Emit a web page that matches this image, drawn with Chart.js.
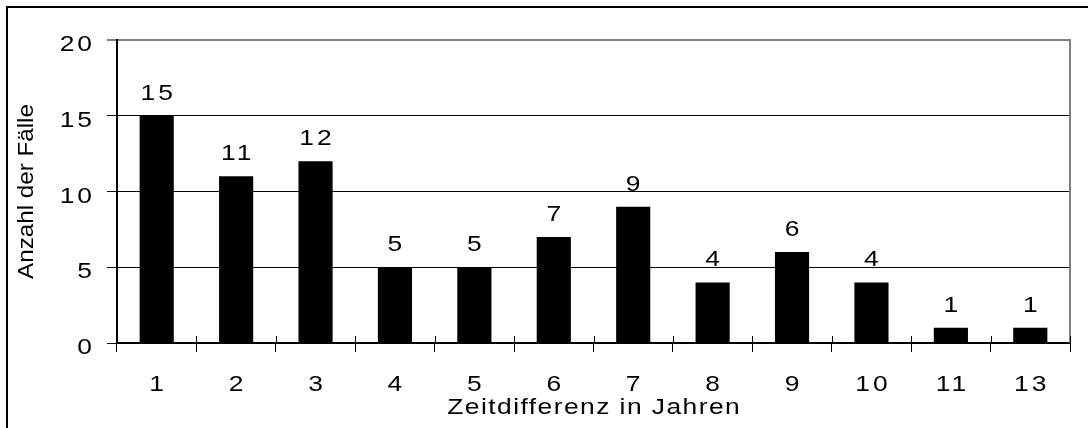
<!DOCTYPE html>
<html><head><meta charset="utf-8">
<script src="https://cdn.jsdelivr.net/npm/chart.js@4.4.0/dist/chart.umd.min.js"></script>
<style>html,body{margin:0;padding:0;background:#fff}canvas{display:block}</style>
</head><body>
<canvas id="c" width="1088" height="428"></canvas>
<script>
const categories = ['1','2','3','4','5','6','7','8','9','10','11','13'];
const cases = [15,11,12,5,5,7,9,4,6,4,1,1];
const yMin = 0, yMax = 20, yStep = 5;
const xTitle = 'Zeitdifferenz in Jahren';
const yTitle = 'Anzahl der Fälle';

const FONT = "'Liberation Sans', Arial, sans-serif";
const FS = 22;

const stretchText = {
  id: 'stretchText',
  beforeDraw(chart) {
    const ctx = chart.ctx;
    ctx.save();
    ctx.fillStyle = '#fff';
    ctx.fillRect(0, 0, chart.width, chart.height);
    ctx.restore();
    if (ctx.__patched) return;
    const orig = ctx.fillText.bind(ctx);
    ctx.fillText = function (t, x, y) {
      const m = ctx.getTransform();
      const rotated = Math.abs(m.b) > 1e-6;
      const numeric = /^\d+$/.test(String(t));
      const sx = rotated ? 1.1 : 1.2;
      const ls = rotated ? 0 : (numeric ? 2.5 : 1.2);
      ctx.save();
      ctx.translate(x, y);
      ctx.scale(sx, 1);
      ctx.letterSpacing = ls + 'px';
      let dx = 0;
      if (ctx.textAlign === 'center') dx = ls / 2;
      else if (ctx.textAlign === 'right' || ctx.textAlign === 'end') dx = ls;
      orig(t, dx, 0);
      ctx.restore();
    };
    ctx.__patched = true;
  },
  afterDatasetsDraw(chart) {
    const ctx = chart.ctx;
    const meta = chart.getDatasetMeta(0);
    const data = chart.data.datasets[0].data;
    ctx.save();
    ctx.fillStyle = '#000';
    ctx.font = FS + 'px ' + FONT;
    ctx.textAlign = 'center';
    ctx.textBaseline = 'alphabetic';
    meta.data.forEach((bar, i) => {
      ctx.fillText(String(data[i]), bar.x, bar.y - 16);
    });
    ctx.restore();
  },
  afterDraw(chart) {
    const ctx = chart.ctx;
    const a = chart.chartArea;
    const xs = chart.scales.x;
    ctx.save();
    // right plot border (gray)
    ctx.strokeStyle = '#808080';
    ctx.lineWidth = 2;
    ctx.beginPath();
    ctx.moveTo(a.right, a.top - 1);
    ctx.lineTo(a.right, a.bottom);
    ctx.stroke();
    // inner part of x tick marks
    ctx.strokeStyle = '#000';
    ctx.lineWidth = 1;
    const w = xs.getPixelForValue(1) - xs.getPixelForValue(0);
    ctx.beginPath();
    for (let i = 0; i <= categories.length; i++) {
      const x = Math.round(xs.getPixelForValue(0) - w / 2 + i * w) + 0.5;
      ctx.moveTo(x, a.bottom - 7);
      ctx.lineTo(x, a.bottom);
    }
    ctx.stroke();
    // outer frame
    ctx.lineWidth = 2;
    ctx.beginPath();
    ctx.moveTo(7, 440);
    ctx.lineTo(7, 7);
    ctx.lineTo(1100, 7);
    ctx.stroke();
    ctx.restore();
  }
};

new Chart(document.getElementById('c'), {
  type: 'bar',
  data: {
    labels: categories,
    datasets: [{
      data: cases,
      backgroundColor: '#000',
      borderWidth: 0,
      barPercentage: 0.43,
      categoryPercentage: 1
    }]
  },
  options: {
    responsive: false,
    animation: false,
    events: [],
    layout: { padding: { top: 40, right: 18, left: 0, bottom: 0 } },
    plugins: { legend: { display: false }, tooltip: { enabled: false } },
    scales: {
      x: {
        ticks: { color: '#000', font: { family: FONT, size: FS }, padding: 20, maxRotation: 0, autoSkip: false },
        grid: { offset: true, drawOnChartArea: false, tickLength: 9, color: '#000', tickColor: '#000', tickWidth: 1, lineWidth: 1 },
        border: { color: '#000', width: 2 },
        title: { display: true, text: xTitle, color: '#000', font: { family: FONT, size: FS }, padding: { top: 0, bottom: 7 } },
        afterFit(s) { s.height = 85; }
      },
      y: {
        min: yMin, max: yMax,
        ticks: { stepSize: yStep, color: '#000', font: { family: FONT, size: FS }, padding: 15, labelOffset: 5 },
        grid: {
          color: c => (c.tick && c.tick.value === yMax) ? '#808080' : '#000',
          lineWidth: c => (c.tick && c.tick.value === yMax) ? 2 : 1,
          tickLength: 10, tickColor: '#000', tickWidth: 1
        },
        border: { color: '#000', width: 2 },
        title: { display: true, text: yTitle, color: '#000', font: { family: FONT, size: FS }, padding: { top: 14, bottom: 0 } },
        afterFit(s) { s.width = 117; }
      }
    }
  },
  plugins: [stretchText]
});
</script>
</body></html>
